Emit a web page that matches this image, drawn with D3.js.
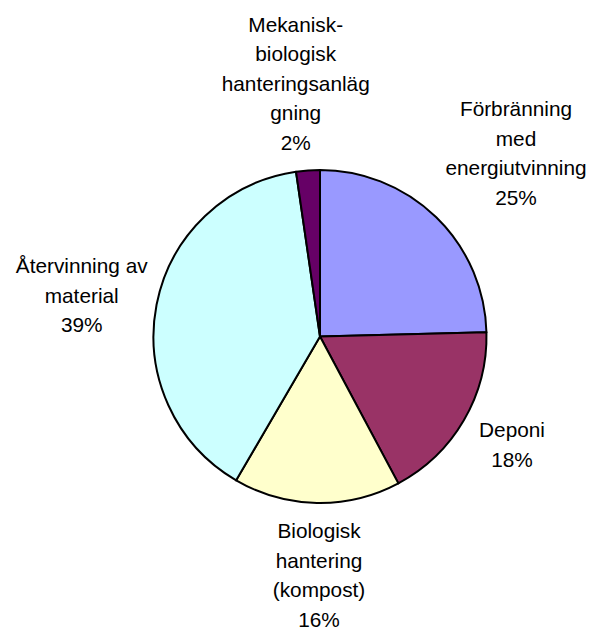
<!DOCTYPE html>
<html>
<head>
<meta charset="utf-8">
<script src="https://cdn.jsdelivr.net/npm/d3@7"></script>
<style>
  html, body { margin: 0; padding: 0; background: #fff; }
  svg { display: block; }
</style>
</head>
<body>
<svg id="chart" width="592" height="631"></svg>
<script>
// ---- data ----
const categories = [
  ["Förbränning", "med", "energiutvinning"],
  ["Deponi"],
  ["Biologisk", "hantering", "(kompost)"],
  ["Återvinning av", "material"],
  ["Mekanisk-", "biologisk", "hanteringsanläg", "gning"]
];
const values = [24.6, 17.6, 16.2, 39.3, 2.3];
const colors = ["#9999FF", "#993366", "#FFFFCC", "#CCFFFF", "#660066"];

// ---- layout (label block placement relative to pie centre) ----
const W = 592, H = 631;
const cx = 320, cy = 336.5, R = 166.5;
const fontSize = 20.8, lineH = 29.5;
const labelPlace = [
  { dx: 196, dy: -220.5 },
  { dx: 192, dy: 100.5 },
  { dx: -1, dy: 201.8 },
  { dx: -238.3, dy: -63.2 },
  { dx: -24.3, dy: -304.8 }
];

const svg = d3.select("#chart");
svg.append("rect").attr("width", W).attr("height", H).attr("fill", "#fff");

const total = d3.sum(values);
const pie = d3.pie().sort(null).value(d => d)(values);
const arc = d3.arc().innerRadius(0).outerRadius(R);

const g = svg.append("g").attr("transform", `translate(${cx},${cy})`);
g.selectAll("path.slice")
  .data(pie)
  .join("path")
  .attr("class", "slice")
  .attr("d", arc)
  .attr("fill", (d, i) => colors[i])
  .attr("stroke", "#000")
  .attr("stroke-width", 2)
  .attr("stroke-linejoin", "round");

const labels = g.selectAll("text.lbl")
  .data(pie)
  .join("text")
  .attr("class", "lbl")
  .attr("font-family", "'Liberation Sans', Arial, Helvetica, sans-serif")
  .attr("font-size", fontSize)
  .attr("fill", "#000")
  .attr("text-anchor", "middle");

labels.each(function(d, i) {
  const lines = categories[i].concat([Math.round(d.value / total * 100) + "%"]);
  const p = labelPlace[i];
  d3.select(this).selectAll("tspan")
    .data(lines)
    .join("tspan")
    .attr("x", p.dx)
    .attr("y", (l, j) => p.dy + j * lineH)
    .text(l => l);
});
</script>
</body>
</html>
